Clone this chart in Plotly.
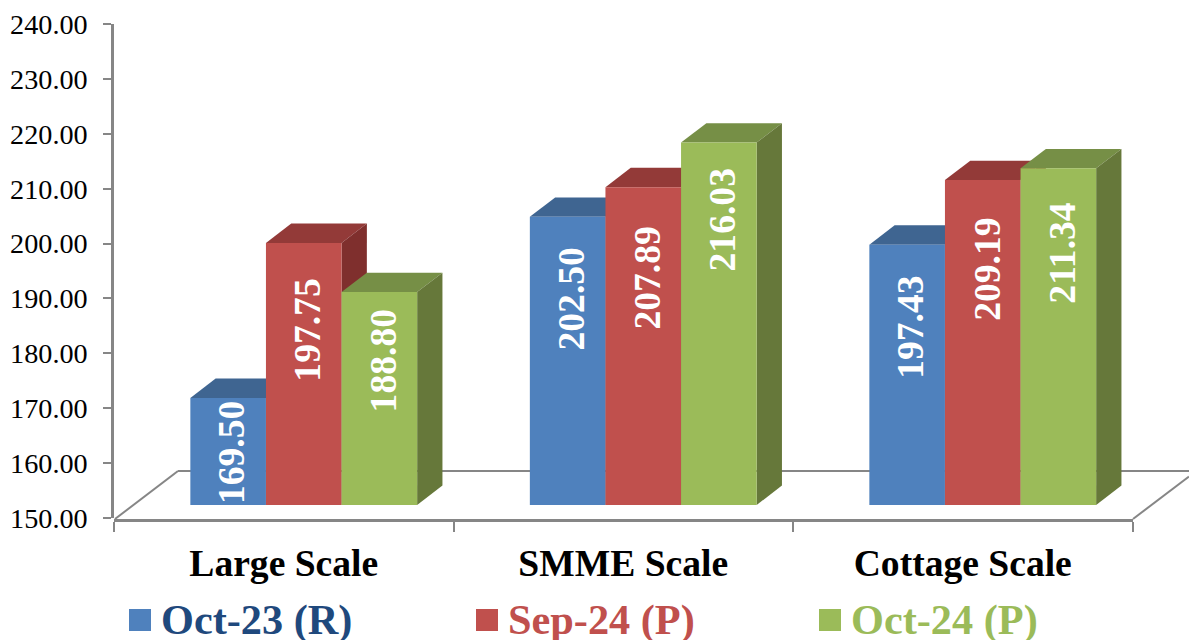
import plotly.graph_objects as go

categories = ["Large Scale", "SMME Scale", "Cottage Scale"]
series_names = ["Oct-23 (R)", "Sep-24 (P)", "Oct-24 (P)"]
oct23 = [169.50, 202.50, 197.43]
sep24 = [197.75, 207.89, 209.19]
oct24 = [188.80, 216.03, 211.34]
y_ticks = [150, 160, 170, 180, 190, 200, 210, 220, 230, 240]

# styling
W, H = 1189, 640
FONT = "Liberation Serif"
front = ["#4F81BD", "#C0504D", "#9BBB59"]
top_c = ["#3F6591", "#933A38", "#768F46"]
side_c = ["#3A5F8B", "#7F2F2D", "#66783A"]
legend_text_c = ["#1F497D", "#C0504D", "#9BBB59"]
label_drop = [[55, 82, 83], [87, 91, 89], [69, 77, 85]]   # px from bar top to label centre
legend_sq_x = [129, 476, 819]
legend_tx_x = [159, 506, 849]

X0, X1 = 114, 1132.5
Y150, Y240 = 518, 24
SHIFT_X, SHIFT_Y = 20, 13
px_per_cat = (X1 - X0) / 3
px_per_unit = (Y150 - Y240) / 90
bar_w = 75.6 / px_per_cat
dx = 25.3 / px_per_cat
dy = 19.4 / px_per_unit
positions = [0, 1, 2]
all_series = [oct23, sep24, oct24]

fx = lambda p: p / W
fy = lambda p: (H - p) / H

fig = go.Figure()

# main axes trace (invisible) so that the visible axes exist
fig.add_trace(go.Scatter(x=[0.5, 1.5, 2.5], y=[None] * 3, xaxis="x", yaxis="y",
                         showlegend=False, hoverinfo="skip"))

# 3-D faces, under the fronts
for s, vals in enumerate(all_series):
    for p, v in zip(positions, vals):
        left = p + (s - 1.5) * bar_w
        right = left + bar_w
        fig.add_trace(go.Scatter(
            x=[left, right, right + dx, left + dx, left],
            y=[v, v, v + dy, v + dy, v],
            fill="toself", fillcolor=top_c[s], mode="lines", line=dict(width=0),
            xaxis="x2", yaxis="y2", showlegend=False, hoverinfo="skip"))
        fig.add_trace(go.Scatter(
            x=[right, right + dx, right + dx, right, right],
            y=[150, 150 + dy, v + dy, v, 150],
            fill="toself", fillcolor=side_c[s], mode="lines", line=dict(width=0),
            xaxis="x2", yaxis="y2", showlegend=False, hoverinfo="skip"))

# front faces
for s, vals in enumerate(all_series):
    fig.add_trace(go.Bar(x=[p + (s - 1) * bar_w for p in positions], y=vals,
                         name=series_names[s], width=bar_w,
                         marker=dict(color=front[s], line=dict(width=0)),
                         xaxis="x3", yaxis="y3", showlegend=False))

annotations = []
for s, vals in enumerate(all_series):
    for i, (p, v) in enumerate(zip(positions, vals)):
        annotations.append(dict(
            x=p + (s - 1) * bar_w, y=v, xref="x3", yref="y3", text=f"<b>{v:.2f}</b>",
            textangle=-90, showarrow=False, yshift=-label_drop[s][i], xshift=4,
            font=dict(family=FONT, size=37.6, color="white")))

shapes = []
line = dict(color="#868686", width=2)
# floor outline
shapes.append(dict(type="line", xref="paper", yref="paper", layer="below", line=line,
                   x0=fx(115), y0=fy(519), x1=fx(178), y1=fy(471)))
shapes.append(dict(type="line", xref="paper", yref="paper", layer="below", line=line,
                   x0=fx(178), y0=fy(471), x1=fx(1189), y1=fy(471)))
shapes.append(dict(type="line", xref="paper", yref="paper", layer="below", line=line,
                   x0=fx(1133), y0=fy(519), x1=fx(1189), y1=fy(476.5)))

# legend
for s in range(3):
    shapes.append(dict(type="rect", xref="paper", yref="paper", line=dict(width=0),
                       fillcolor=front[s], x0=fx(legend_sq_x[s]), x1=fx(legend_sq_x[s] + 22),
                       y0=fy(631), y1=fy(609)))
    annotations.append(dict(
        xref="paper", yref="paper", x=fx(legend_tx_x[s]), y=fy(620), xanchor="left",
        yanchor="middle", showarrow=False, text=f"<b>{series_names[s]}</b>",
        font=dict(family=FONT, size=42.3, color=legend_text_c[s])))

hidden = dict(visible=False, fixedrange=True)
dom_x = [X0 / W, X1 / W]
dom_x2 = [(X0 + SHIFT_X) / W, (X1 + SHIFT_X) / W]
dom_y = [fy(Y150), fy(Y240)]
dom_y2 = [fy(Y150 - SHIFT_Y), fy(Y240 - SHIFT_Y)]

fig.update_layout(
    margin=dict(l=0, r=0, t=0, b=0, autoexpand=False),
    width=W, height=H,
    paper_bgcolor="white", plot_bgcolor="rgba(0,0,0,0)",
    showlegend=False, barmode="overlay",
    font=dict(family=FONT, color="black"),
    xaxis=dict(domain=dom_x, range=[0, 3], anchor="free", position=fy(520),
               tickvals=[0.5, 1.5, 2.5], ticktext=[f"<b>{c}</b>" for c in categories],
               ticks="", showgrid=False, showline=True, linecolor="#868686", linewidth=2.5,
               tickfont=dict(family=FONT, size=37.6, color="black"), ticklabelstandoff=9,
               minor=dict(tickvals=[0, 1, 2, 3], ticks="outside", ticklen=10, tickwidth=2,
                          tickcolor="#868686", showgrid=False)),
    yaxis=dict(domain=dom_y, range=[150, 240], anchor="x", tickvals=y_ticks,
               tickformat=".2f", ticks="outside", ticklen=8, tickwidth=2, tickcolor="#868686",
               showgrid=False, zeroline=False, showline=True, linecolor="#868686", linewidth=2.5,
               tickfont=dict(family=FONT, size=28.2, color="black"), ticklabelstandoff=10),
    xaxis2=dict(domain=dom_x2, range=[-0.5, 2.5], anchor="y2", **hidden),
    yaxis2=dict(domain=dom_y2, range=[150, 240], anchor="x2", **hidden),
    xaxis3=dict(domain=dom_x2, range=[-0.5, 2.5], anchor="y3", **hidden),
    yaxis3=dict(domain=dom_y2, range=[150, 240], anchor="x3", **hidden),
    annotations=annotations, shapes=shapes,
)
fig.write_html("out.html", config={"displayModeBar": False},
               post_script="document.body.style.margin='0';")
